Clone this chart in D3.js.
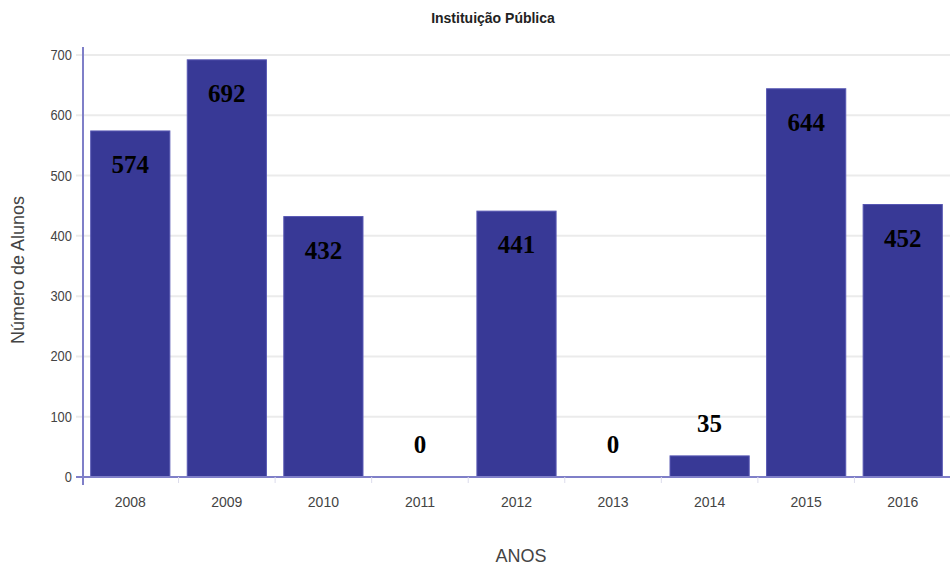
<!DOCTYPE html>
<html>
<head>
<meta charset="utf-8">
<script src="https://cdn.jsdelivr.net/npm/d3@7"></script>
<style>
  body { margin: 0; background: #fff; }
  svg { display: block; }
</style>
</head>
<body>
<div id="chart"></div>
<script>
const anos = ["2008", "2009", "2010", "2011", "2012", "2013", "2014", "2015", "2016"];
const alunos = [574, 692, 432, 0, 441, 0, 35, 644, 452];
const yTicks = [0, 100, 200, 300, 400, 500, 600, 700];

const width = 950;
const height = 570;
const margin = {top: 55, right: -1, bottom: 93, left: 82};

const x = d3.scaleBand()
    .domain(anos)
    .range([margin.left, width - margin.right])
    .paddingInner(0.18)
    .paddingOuter(0.09);

const y = d3.scaleLinear()
    .domain([0, 700])
    .range([height - margin.bottom, margin.top]);

const svg = d3.select('#chart').append('svg')
    .attr('width', width)
    .attr('height', height)
    .style('font-family', 'Arial, "Liberation Sans", sans-serif');

// grid
svg.append('g')
    .selectAll('line')
    .data(yTicks.slice(1))
    .join('line')
    .attr('x1', margin.left - 6)
    .attr('x2', width)
    .attr('y1', d => y(d))
    .attr('y2', d => y(d))
    .attr('stroke', '#ebebeb')
    .attr('stroke-width', 2);

// y axis labels
const yAxis = g => g
    .attr('transform', `translate(${margin.left},0)`)
    .call(d3.axisLeft(y).tickValues(yTicks).tickSize(0).tickPadding(11))
    .call(g => g.select('.domain').remove())
    .call(g => g.selectAll('text')
        .attr('fill', '#444')
        .style('font-size', '14px')
        .attr('transform', 'scale(0.92,1)'));
svg.append('g').call(yAxis);

// bars
svg.append('g')
    .selectAll('rect')
    .data(alunos)
    .join('rect')
    .attr('x', (d, i) => x(anos[i]))
    .attr('y', d => y(d))
    .attr('width', x.bandwidth())
    .attr('height', d => y(0) - y(d))
    .attr('fill', '#383996')
    .attr('stroke', '#5757b3')
    .attr('stroke-width', 1);

// x axis
const step = x.step();
const xAxis = g => g
    .attr('transform', `translate(0,${y(0)})`)
    .call(d3.axisBottom(x).tickSize(0).tickPadding(20))
    .call(g => g.select('.domain')
        .attr('d', `M${margin.left - 6},0H${width}`)
        .attr('stroke', '#7f7fc8')
        .attr('stroke-width', 2))
    .call(g => g.selectAll('text')
        .attr('fill', '#444')
        .style('font-size', '14px'));
svg.append('g').call(xAxis);

// small ticks between bands
svg.append('g')
    .selectAll('line')
    .data(anos.slice(1))
    .join('line')
    .attr('x1', d => x(d) - step * 0.09)
    .attr('x2', d => x(d) - step * 0.09)
    .attr('y1', y(0))
    .attr('y2', y(0) + 6)
    .attr('stroke', '#dcdcec')
    .attr('stroke-width', 1);

// y axis line
svg.append('line')
    .attr('x1', margin.left + 1)
    .attr('x2', margin.left + 1)
    .attr('y1', y(700) - 8)
    .attr('y2', y(0) + 8)
    .attr('stroke', '#7f7fc8')
    .attr('stroke-width', 2);

// value labels
svg.append('g')
    .selectAll('text')
    .data(alunos)
    .join('text')
    .attr('x', (d, i) => x(anos[i]) + x.bandwidth() / 2)
    .attr('y', d => d > 100 ? y(d) + 42 : y(d) - 24)
    .attr('text-anchor', 'middle')
    .attr('font-family', '"Liberation Serif", "Times New Roman", serif')
    .attr('font-weight', 'bold')
    .attr('font-size', '25px')
    .attr('fill', '#000')
    .text(d => d);

// title
svg.append('text')
    .attr('x', 493)
    .attr('y', 23)
    .attr('text-anchor', 'middle')
    .attr('font-weight', 'bold')
    .attr('font-size', '14px')
    .attr('fill', '#222')
    .text('Instituição Pública');

// axis titles
svg.append('text')
    .attr('transform', `translate(24,${(y(0) + y(700)) / 2 + 4}) rotate(-90)`)
    .attr('text-anchor', 'middle')
    .attr('font-size', '18px')
    .attr('fill', '#444')
    .text('Número de Alunos');

svg.append('text')
    .attr('x', 521)
    .attr('y', 562)
    .attr('text-anchor', 'middle')
    .attr('font-size', '18px')
    .attr('fill', '#444')
    .text('ANOS');
</script>
</body>
</html>
